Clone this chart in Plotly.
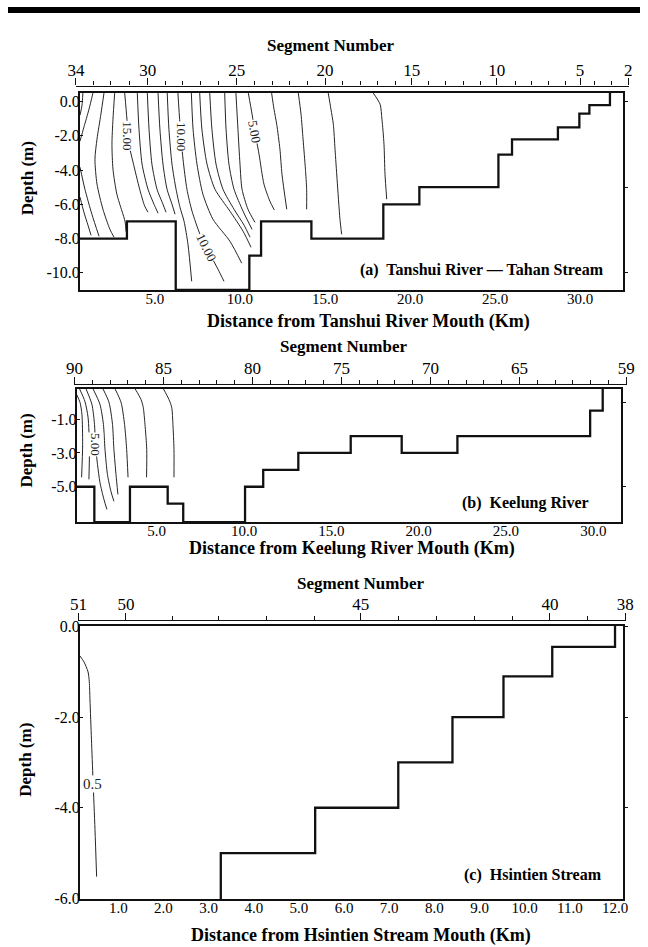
import plotly.graph_objects as go

W, H = 648, 947
SERIF = "Liberation Serif"
INK = "#111111"

# ---------------- (a) Tanshui River - Tahan Stream ----------------
a_bed_km = [0.59, 3.35, 6.22, 10.55, 11.24, 14.2, 18.43, 20.55, 25.2, 26.0, 28.7, 29.96, 30.55, 31.76]
a_bed_depth = [-8.0, -7.0, -11.0, -9.0, -7.0, -8.0, -6.0, -5.0, -3.1, -2.2, -1.5, -0.7, -0.2, 0.5]

a_iso_km = [
    [0.76, 0.71, 0.59],
    [0.59, 0.82, 1.06, 1.24],
    [1.35, 1.12, 0.82, 0.59],
    [0.59, 0.88, 1.29, 1.71],
    [2.0, 1.82, 1.59, 1.47, 1.59, 1.94, 2.35, 2.59],
    [2.63, 2.53, 2.47, 2.53, 2.76, 3.06, 3.24, 3.3],
    [3.22, 3.35, 3.47, 3.71, 4.1, 4.39, 4.59],
    [3.96, 4.06, 4.24, 4.59, 4.94, 5.18],
    [4.55, 4.65, 4.82, 5.12, 5.47, 5.65],
    [5.18, 5.29, 5.47, 5.71, 6.0, 6.18],
    [5.72, 5.82, 6.0, 6.24, 6.47, 6.71, 6.94, 7.16],
    [6.35, 6.47, 6.65, 6.88, 7.18, 7.65, 8.24, 8.71, 9.06],
    [7.14, 7.24, 7.47, 7.82, 8.41, 9.41, 10.1],
    [7.63, 7.76, 8.06, 8.53, 9.41, 10.18, 10.65],
    [8.22, 8.35, 8.59, 9.0, 9.65, 10.24, 10.59],
    [9.1, 9.18, 9.35, 9.65, 10.18, 10.71],
    [9.76, 9.88, 10.0, 10.12, 10.47, 10.88],
    [10.49, 10.71, 10.88, 11.12, 11.41, 11.76, 12.02],
    [11.86, 12.0, 12.16, 12.35, 12.47, 12.75],
    [13.43, 13.59, 13.71, 13.85, 13.92, 13.92],
    [15.19, 15.35, 15.49, 15.59, 15.71, 15.88, 15.98],
    [17.84, 18.24, 18.35, 18.47, 18.53, 18.63],
]
a_iso_depth = [
    [0.5, -0.2, -0.79],
    [-5.58, -6.46, -7.22, -7.81],
    [0.5, -0.44, -1.49, -2.31],
    [-3.83, -5.12, -6.58, -7.87],
    [0.5, -0.73, -2.19, -3.36, -4.82, -6.29, -7.46, -7.92],
    [0.5, -1.02, -2.49, -3.95, -5.41, -6.4, -7.0, -7.6],
    [0.5, -1.02, -2.49, -3.54, -5.12, -6.09, -6.46],
    [0.5, -1.61, -3.65, -5.12, -5.99, -6.52],
    [0.5, -1.61, -3.65, -5.12, -5.99, -6.46],
    [0.5, -1.61, -3.65, -5.12, -5.99, -6.58],
    [0.5, -1.61, -3.65, -5.12, -6.17, -6.99, -8.33, -10.5],
    [0.5, -1.32, -3.36, -5.12, -6.4, -7.75, -8.92, -9.8, -10.5],
    [0.5, -1.61, -3.65, -5.41, -6.87, -8.16, -9.44],
    [0.5, -1.61, -3.65, -5.12, -6.4, -7.57, -8.51],
    [0.5, -1.61, -3.65, -5.12, -6.29, -7.22, -7.92],
    [0.5, -1.61, -3.65, -5.12, -6.4, -7.46],
    [0.5, -1.61, -3.65, -5.12, -6.29, -7.05],
    [0.5, -0.73, -1.78, -3.07, -4.82, -5.82, -6.33],
    [0.5, -0.44, -1.32, -2.78, -4.24, -6.29],
    [0.5, -0.73, -2.19, -3.95, -5.12, -6.29],
    [0.5, -0.44, -1.32, -2.78, -4.53, -6.87, -7.75],
    [0.5, -0.15, -1.02, -2.49, -4.24, -5.7],
]
a_label_text = ["15.00", "10.00", "10.00", "5.00"]
a_label_km = [3.41, 6.55, 8.03, 10.88]
a_label_depth = [-2.02, -2.02, -8.51, -1.78]
a_label_angle = [90, 90, 63, 80]

a_seg_number = list(range(34, 1, -1))
a_seg_km = [0.35, 1.37, 2.41, 3.49, 4.57, 5.63, 6.63, 7.67, 8.72, 9.81, 10.84,
            11.92, 12.94, 13.97, 15.0, 16.02, 17.06, 18.08, 19.16, 20.1, 21.08,
            22.1, 23.14, 24.12, 25.1, 26.18, 27.16, 28.14, 29.16, 30.0, 30.88,
            31.86, 32.84]
a_seg_major = [34, 30, 25, 20, 15, 10, 5, 2]
a_depth_ticks = [0, -2, -4, -6, -8, -10]
a_dist_ticks = [5, 10, 15, 20, 25, 30]

# ---------------- (b) Keelung River ----------------
b_bed_km = [0.42, 1.43, 3.47, 5.63, 6.52, 10.06, 11.1, 13.11, 16.11, 19.03, 22.22, 29.82, 30.54]
b_bed_depth = [-5.0, -7.1, -5.0, -6.0, -7.1, -5.0, -4.0, -3.0, -2.0, -3.0, -2.0, -0.5, 0.8]

b_iso_km = [
    [0.42, 0.61, 0.72, 0.76, 0.70],
    [0.58, 0.89, 1.07, 1.15, 1.12],
    [0.95, 1.29, 1.44, 1.49, 1.61, 1.75, 1.98, 2.15],
    [1.35, 1.75, 1.95, 2.04, 2.18, 2.38, 2.55],
    [1.92, 2.27, 2.47, 2.55, 2.67, 2.78],
    [2.61, 2.96, 3.16, 3.28, 3.36],
    [3.76, 4.1, 4.23, 4.33, 4.43, 4.42],
    [5.38, 5.7, 5.86, 5.93, 5.99, 5.99],
]
b_iso_depth = [
    [0.45, -0.01, -0.72, -2.49, -4.44],
    [0.8, 0.05, -0.89, -2.67, -4.56],
    [0.8, -0.12, -1.31, -2.49, -3.67, -4.74, -5.75, -6.34],
    [0.8, -0.12, -1.31, -2.79, -4.27, -5.27, -5.86],
    [0.8, -0.01, -1.31, -2.79, -4.27, -5.45],
    [0.8, -0.01, -1.31, -2.79, -4.44],
    [0.8, 0.17, -0.3, -1.31, -2.79, -4.44],
    [0.8, 0.17, -0.3, -1.31, -2.79, -4.44],
]
b_label_text = ["5.00"]
b_label_km = [1.49]
b_label_depth = [-2.49]
b_label_angle = [90]

b_seg_first, b_seg_last = 90, 59
b_seg_major = [90, 85, 80, 75, 70, 65, 59]
b_depth_ticks = [-1, -3, -5]
b_dist_ticks = [5, 10, 15, 20, 25, 30]

# ---------------- (c) Hsintien Stream ----------------
c_bed_km = [3.27, 3.27, 5.36, 7.2, 8.4, 9.53, 10.61, 12.0]
c_bed_depth = [-6.02, -5.0, -4.0, -3.0, -2.0, -1.1, -0.45, 0.02]

c_iso_km = [[0.152, 0.24, 0.33, 0.358, 0.373, 0.406, 0.44, 0.484, 0.52]]
c_iso_depth = [[-0.65, -0.78, -1.0, -1.22, -1.62, -2.5, -3.38, -4.48, -5.52]]
c_label_text = ["0.5"]
c_label_km = [0.433]
c_label_depth = [-3.48]
c_label_angle = [0]

c_seg_number = list(range(51, 37, -1))
c_seg_km = [0.12, 1.17, 2.2, 3.23, 4.28, 5.34, 6.37, 7.21, 8.04, 8.88, 9.72, 10.56, 11.39, 12.23]
c_seg_major = [51, 50, 45, 40, 38]
c_depth_ticks = [0, -2, -4, -6]
c_dist_ticks = list(range(1, 13))


# ---------------- page geometry ----------------
# The figure is laid out inside the page body, which keeps an 8 px border,
# so page-pixel positions are converted to paper fractions of that inner area.
PAD = 8
PW, PH = W - 2 * PAD, H - 2 * PAD


def fx(px):
    return (px - PAD) / PW


def fy(py):
    return 1 - (py - PAD) / PH


# plot boxes: left, top, right, bottom (page px) and data ranges
A = dict(box=(80, 94, 622.7, 290.6), xr=(0.59, 32.51), yr=(-11.0, 0.5), x0=70.0, kx=17.0)
B = dict(box=(76.7, 389.3, 620.7, 522.7), xr=(0.42, 31.57), yr=(-7.1, 0.8), x0=69.4, kx=17.46)
C = dict(box=(80, 626, 622.7, 899.3), xr=(0.152, 12.17), yr=(-6.02, 0.02), x0=73.15, kx=45.15)

fig = go.Figure()


def add_lines(xs, ys, xa, ya):
    for xv, yv in zip(xs, ys):
        fig.add_trace(go.Scatter(
            x=xv, y=yv, xaxis=xa, yaxis=ya, mode="lines",
            line=dict(color="#262626", width=1, shape="spline", smoothing=0.7),
            hoverinfo="skip", showlegend=False))


def add_bed(xv, yv, xa, ya):
    fig.add_trace(go.Scatter(
        x=xv, y=yv, xaxis=xa, yaxis=ya, mode="lines",
        line=dict(color=INK, width=2.3, shape="hv"),
        hoverinfo="skip", showlegend=False))


def add_anchor(xa, ya, xv, yv):
    # invisible point so that auxiliary axes get drawn
    fig.add_trace(go.Scatter(
        x=[xv], y=[yv], xaxis=xa, yaxis=ya, mode="markers",
        marker=dict(opacity=0, size=1), hoverinfo="skip", showlegend=False))


add_lines(a_iso_km, a_iso_depth, "x", "y")
add_bed(a_bed_km, a_bed_depth, "x", "y")
add_lines(b_iso_km, b_iso_depth, "x2", "y2")
add_bed(b_bed_km, b_bed_depth, "x2", "y2")
add_lines(c_iso_km, c_iso_depth, "x3", "y3")
add_bed(c_bed_km, c_bed_depth, "x3", "y3")

add_anchor("x", "y4", 16, -5)
add_anchor("x2", "y5", 16, -3)
add_anchor("x3", "y6", 6, -3)
add_anchor("x4", "y7", 16, 0)
add_anchor("x5", "y8", 75, 0)
add_anchor("x6", "y9", 6, 0)

tick_font = dict(family=SERIF, size=15, color="black")
ytick_font = dict(family=SERIF, size=16, color="black")
seg_font = dict(family=SERIF, size=17, color="black")


def main_x(P, ticks, y_anchor):
    l, t, r, b = P["box"]
    return dict(domain=[fx(l), fx(r)], range=list(P["xr"]), anchor=y_anchor,
                tickmode="array", tickvals=ticks, ticktext=[f"{v:.1f}" for v in ticks],
                ticks="", ticklabelstandoff=-6,
                showline=True, linecolor=INK, linewidth=2, mirror=True,
                showgrid=False, zeroline=False, tickfont=tick_font)


def main_y(P, ticks, x_anchor):
    l, t, r, b = P["box"]
    return dict(domain=[fy(b), fy(t)], range=list(P["yr"]), anchor=x_anchor,
                tickmode="array", tickvals=ticks, ticktext=[f"{v:.1f}" for v in ticks],
                ticks="inside", ticklen=3, tickcolor=INK, ticklabelstandoff=-5,
                showline=True, linecolor=INK, linewidth=2, mirror=True,
                showgrid=False, zeroline=False, tickfont=ytick_font)


def right_ticks(P, ticks, over, x_anchor):
    return dict(overlaying=over, side="right", anchor=x_anchor, range=list(P["yr"]),
                tickmode="array", tickvals=ticks, ticks="outside", ticklen=4,
                tickcolor=INK, showticklabels=False, showline=False,
                showgrid=False, zeroline=False)


def strip_y(base_py):
    # hidden thin axis whose top edge carries a segment scale
    return dict(domain=[fy(base_py + 2), fy(base_py)], range=[-1, 1], visible=False)


def seg_axis_km(P, seg_num, seg_km, major, y_anchor):
    lo, hi = seg_km[0] - 0.02, seg_km[-1] + 0.02
    major_km = [seg_km[seg_num.index(n)] for n in major]
    return dict(anchor=y_anchor, side="top",
                domain=[fx(P["x0"] + lo * P["kx"]), fx(P["x0"] + hi * P["kx"])],
                range=[lo, hi], tickmode="array", tickvals=major_km,
                ticktext=[str(n) for n in major], ticks="outside", ticklen=7,
                tickwidth=1.2, tickcolor=INK, showline=True, linecolor=INK,
                linewidth=1.3, showgrid=False, zeroline=False, tickfont=seg_font,
                ticklabelstandoff=-4,
                minor=dict(tickmode="array", tickvals=seg_km, ticks="outside",
                           ticklen=4, tickwidth=1, tickcolor=INK))


b_seg_px0, b_seg_step = 74.4, 17.8

fig.update_layout(
    width=W, height=H, margin=dict(l=0, r=0, t=0, b=0),
    paper_bgcolor="white", plot_bgcolor="rgba(0,0,0,0)", showlegend=False,
    font=dict(family=SERIF, color="black"),
    xaxis=main_x(A, a_dist_ticks, "y"),
    yaxis=main_y(A, a_depth_ticks, "x"),
    xaxis2=main_x(B, b_dist_ticks, "y2"),
    yaxis2=main_y(B, b_depth_ticks, "x2"),
    xaxis3=main_x(C, c_dist_ticks, "y3"),
    yaxis3=main_y(C, c_depth_ticks, "x3"),
    yaxis4=right_ticks(A, [0, -5, -10], "y", "x"),
    yaxis5=right_ticks(B, [0, -5], "y2", "x2"),
    yaxis6=right_ticks(C, [0, -2, -4], "y3", "x3"),
    yaxis7=strip_y(87.5),
    yaxis8=strip_y(385.5),
    yaxis9=strip_y(621),
    xaxis4=seg_axis_km(A, a_seg_number, a_seg_km, a_seg_major, "y7"),
    xaxis6=seg_axis_km(C, c_seg_number, c_seg_km, c_seg_major, "y9"),
    xaxis5=dict(
        anchor="y8", side="top",
        domain=[fx(b_seg_px0 - 0.05 * b_seg_step),
                fx(b_seg_px0 + (b_seg_first - b_seg_last + 0.05) * b_seg_step)],
        range=[b_seg_first + 0.05, b_seg_last - 0.05], tickmode="array",
        tickvals=b_seg_major, ticktext=[str(n) for n in b_seg_major],
        ticks="outside", ticklen=7, tickwidth=1.2, tickcolor=INK,
        showline=True, linecolor=INK, linewidth=1.3, showgrid=False, zeroline=False,
        tickfont=seg_font, ticklabelstandoff=-4,
        minor=dict(tickmode="linear", tick0=0, dtick=1, ticks="outside",
                   ticklen=4, tickwidth=1, tickcolor=INK)),
)

annotations = []


def contour_labels(texts, xs, ys, angles, xa, ya, size=13):
    for t, xv, yv, ang in zip(texts, xs, ys, angles):
        annotations.append(dict(
            text=t, x=xv, y=yv, xref=xa, yref=ya, showarrow=False, textangle=ang,
            bgcolor="white", borderpad=0, font=dict(family=SERIF, size=size, color="#222")))


contour_labels(a_label_text, a_label_km, a_label_depth, a_label_angle, "x", "y")
contour_labels(b_label_text, b_label_km, b_label_depth, b_label_angle, "x2", "y2")
contour_labels(c_label_text, c_label_km, c_label_depth, c_label_angle, "x3", "y3", size=15)


def page_text(text, px, py, size=17, angle=0, xanchor="center", bold=True):
    annotations.append(dict(
        text=f"<b>{text}</b>" if bold else text, x=fx(px), y=fy(py),
        xref="paper", yref="paper", showarrow=False, textangle=angle,
        xanchor=xanchor, yanchor="middle",
        font=dict(family=SERIF, size=size, color="black")))


# axis titles
page_text("Segment Number", 331, 46)
page_text("Segment Number", 344, 347)
page_text("Segment Number", 360, 584)
page_text("Distance from Tanshui River Mouth (Km)", 368, 322, size=18)
page_text("Distance from Keelung River Mouth (Km)", 352, 549, size=18)
page_text("Distance from Hsintien Stream Mouth (Km)", 361, 936, size=18)
page_text("Depth (m)", 27, 179, angle=-90)
page_text("Depth (m)", 26, 451, angle=-90)
page_text("Depth (m)", 26, 760, angle=-90)

# panel captions
page_text("(a)  Tanshui River \u2014 Tahan Stream", 606, 271, size=16, xanchor="right")
page_text("(b)  Keelung River", 591, 503, size=16, xanchor="right")
page_text("(c)  Hsintien Stream", 604, 875, size=16, xanchor="right")

fig.update_layout(annotations=annotations)

# heavy rule across the top of the page
fig.add_shape(type="rect", xref="paper", yref="paper", x0=0, x1=1,
              y0=fy(14), y1=1, fillcolor="black", line=dict(width=0), layer="above")

fig.write_html("out.html")
